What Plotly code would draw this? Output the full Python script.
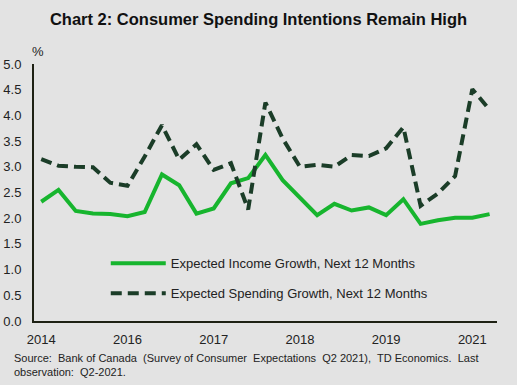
import plotly.graph_objects as go

quarters = ["2014Q4", "2015Q1", "2015Q2", "2015Q3", "2015Q4", "2016Q1", "2016Q2", "2016Q3",
            "2016Q4", "2017Q1", "2017Q2", "2017Q3", "2017Q4", "2018Q1", "2018Q2", "2018Q3",
            "2018Q4", "2019Q1", "2019Q2", "2019Q3", "2019Q4", "2020Q1", "2020Q2", "2020Q3",
            "2020Q4", "2021Q1", "2021Q2"]
income_growth = [2.32, 2.55, 2.14, 2.09, 2.08, 2.04, 2.12, 2.85, 2.64, 2.09, 2.19, 2.68, 2.78, 3.23,
                 2.74, 2.39, 2.06, 2.28, 2.15, 2.21, 2.06, 2.37, 1.89, 1.96, 2.01, 2.01, 2.08]
spending_growth = [3.15, 3.02, 3.00, 2.99, 2.69, 2.63, 3.20, 3.81, 3.14, 3.44, 2.94, 3.07, 2.17, 4.25,
                   3.55, 3.00, 3.04, 3.00, 3.23, 3.21, 3.36, 3.77, 2.24, 2.48, 2.82, 4.51, 4.11]
tick_quarters = ["2014Q4", "2016Q1", "2017Q2", "2018Q3", "2019Q4", "2021Q1"]
tick_labels = ["2014", "2016", "2017", "2018", "2019", "2021"]
y_ticks = [0, 0.5, 1, 1.5, 2, 2.5, 3, 3.5, 4, 4.5, 5]

FONT = "Liberation Sans, Arial, sans-serif"
BG = "#e3e3e3"
AX = "#1e2114"

fig = go.Figure()
fig.add_trace(go.Scatter(
    x=quarters, y=income_growth, mode="lines",
    name="Expected Income Growth, Next 12 Months",
    line=dict(color="#17b52e", width=4), legend="legend"))
fig.add_trace(go.Scatter(
    x=quarters, y=spending_growth, mode="lines",
    name="Expected Spending Growth, Next 12 Months",
    line=dict(color="#1b3d28", width=4, dash="11px,6px"), legend="legend2"))

leg_common = dict(bgcolor="rgba(0,0,0,0)", font=dict(family=FONT, size=13, color="#222222"),
                  itemwidth=55, xanchor="left", yanchor="middle")

fig.update_layout(
    width=517, height=385,
    paper_bgcolor=BG, plot_bgcolor=BG,
    margin=dict(l=34, r=20, t=64, b=64, autoexpand=False),
    title=dict(text="<b>Chart 2: Consumer Spending Intentions Remain High</b>",
               x=0.5, xanchor="center", y=1 - 19 / 385, yanchor="middle",
               font=dict(family=FONT, size=16.5, color="#111111")),
    showlegend=True,
    legend=dict(x=0.155, y=(320.7 - 263) / 256.7, **leg_common),
    legend2=dict(x=0.155, y=(320.7 - 293) / 256.7, **leg_common),
    xaxis=dict(type="category", categoryorder="array", categoryarray=quarters,
               range=[-0.42, 26.43], tickmode="array", tickvals=tick_quarters,
               ticktext=tick_labels, showgrid=False, zeroline=False, automargin=False,
               showline=True, linecolor=AX, linewidth=2, ticks="", ticklabelstandoff=5,
               tickfont=dict(family=FONT, size=13, color="#222222")),
    yaxis=dict(range=[0, 5], tickmode="array", tickvals=y_ticks, tickformat=".1f",
               showgrid=False, zeroline=False, showline=True, linecolor=AX, linewidth=2,
               ticks="", ticklabelstandoff=8, automargin=False,
               tickfont=dict(family=FONT, size=13, color="#222222")),
    annotations=[
        dict(text="%", xref="paper", yref="paper", x=(30 - 34) / 463, y=(320.7 - 52) / 256.7,
             xanchor="left", yanchor="middle", showarrow=False,
             font=dict(family=FONT, size=13, color="#222222")),
        dict(text="Source:  Bank of Canada  (Survey of Consumer  Expectations  Q2 2021),  TD Economics.  Last<br>observation:  Q2-2021.",
             xref="paper", yref="paper", x=(12 - 34) / 463, y=(320.7 - 365) / 256.7,
             xanchor="left", yanchor="middle", align="left", showarrow=False,
             font=dict(family=FONT, size=11, color="#222222")),
    ],
)

fig.write_html("out.html", config={"displayModeBar": False},
               post_script="document.body.style.margin='0';")
